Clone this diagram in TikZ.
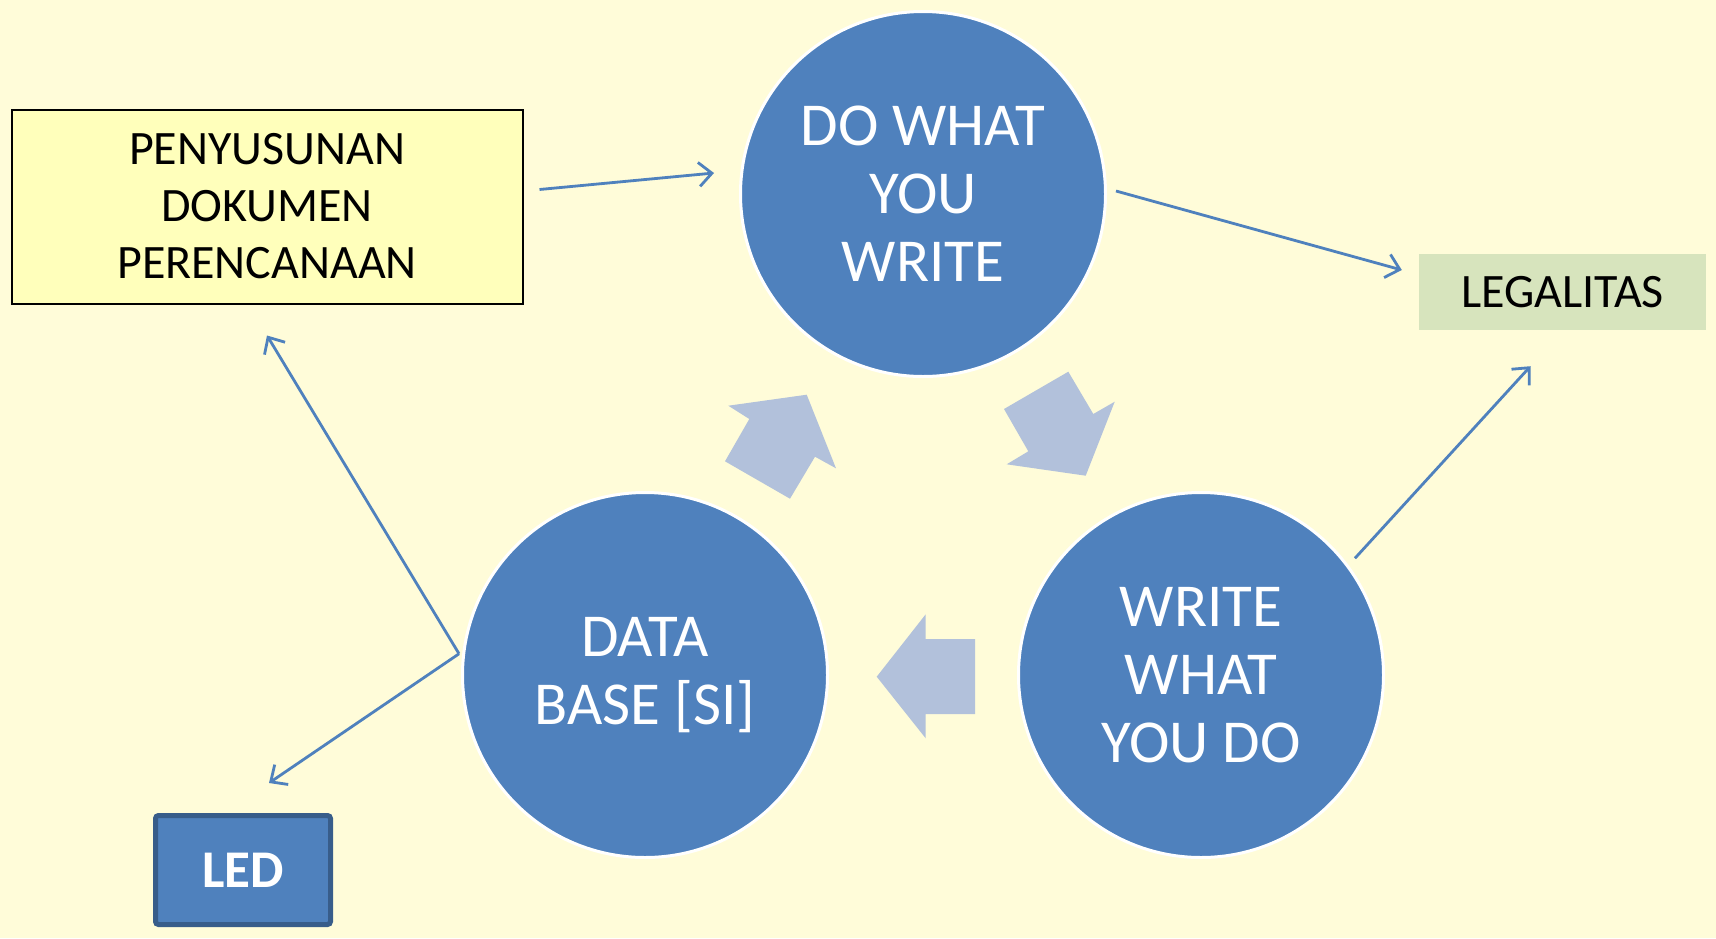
\documentclass[tikz,border=0pt]{standalone}
\usepackage{fontspec}
\setmainfont{Carlito}
\usetikzlibrary{arrows.meta, positioning, calc}
\definecolor{Cream}{HTML}{FFFCD9}
\definecolor{PaleYellow}{HTML}{FFFFBB}
\definecolor{SteelBlue}{HTML}{4F81BD}
\definecolor{DarkSteel}{HTML}{385D8A}
\definecolor{Sage}{HTML}{D7E4BD}
\definecolor{Haze}{HTML}{B2C1DB}
\tikzset{
  stage/.style={circle, fill=SteelBlue, draw=white, line width=3pt,
                minimum size=365pt, inner sep=0pt, text=white, align=center,
                font=\fontsize{61}{68}\selectfont},
  link/.style={draw=SteelBlue, line width=2.8pt,
               -{Straight Barb[length=13pt,width=24pt]}},
  flow/.style={fill=Haze},
}
\begin{document}
\begin{tikzpicture}[x=1pt, y=-1pt]
    % Background
    \fill[Cream] (0,0) rectangle (1716,938);
    \useasboundingbox (0,0) rectangle (1716,938);

    % Three cycle circles
    \node[stage] (dowrite) at (923,194) {DO WHAT\\YOU\\WRITE};
    \node[stage] (dbase) at (645,675) {DATA\\BASE [SI]};
    \node[stage] (writedo) at (1201,675) {WRITE\\WHAT\\YOU DO};

    % Side boxes
    \node[rectangle, fill=PaleYellow, draw=black, line width=2pt,
          minimum width=511pt, minimum height=194pt, align=center,
          font=\fontsize{48}{57}\selectfont] (plan) at (267,206.5)
          {PENYUSUNAN\\DOKUMEN\\PERENCANAAN};
    \node[rectangle, fill=Sage, minimum width=287pt, minimum height=76pt,
          font=\fontsize{48}{56}\selectfont] (legal) at (1562.5,292) {LEGALITAS};
    \node[rectangle, rounded corners=3pt, fill=SteelBlue, draw=DarkSteel,
          line width=5pt, minimum width=175pt, minimum height=109pt, text=white,
          font=\fontsize{53}{60}\selectfont\bfseries] (led) at (243,870) {LED};

    % Block arrows of the cycle
    \fill[flow] (728.3,405.7) -- (806.7,394.7) -- (836,468.3) -- (815,456.7)
        -- (790,498.7) -- (725,461.3) -- (749.3,419) -- cycle;
    \fill[flow] (1068.3,371.7) -- (1093.3,414) -- (1114.7,401.7) -- (1085.7,475.7)
        -- (1006.7,464.3) -- (1028.3,451.3) -- (1004,409) -- cycle;
    \fill[flow] (876.7,676.7) -- (925.7,614.3) -- (925.7,639) -- (975,639)
        -- (975,714) -- (925.7,714) -- (925.7,738.3) -- cycle;

    % Connectors
    \coordinate (fork) at ([xshift=-3pt,yshift=2pt]dbase.174);
    \draw[link] ([xshift=16pt,yshift=17pt]plan.east) -- ([xshift=-25pt,yshift=21pt]dowrite.west);
    \draw[link] ([xshift=9pt,yshift=3pt]dowrite.east) -- ([xshift=-17pt,yshift=22pt]legal.west);
    \draw[link] ([xshift=7pt,yshift=6pt]writedo.37) -- ([xshift=-32pt,yshift=-36pt]legal.south);
    \draw[link] (fork) -- ([yshift=-31pt]plan.south);
    \draw[link] (fork) -- ([xshift=26pt,yshift=30pt]led.north);
\end{tikzpicture}
\end{document}
